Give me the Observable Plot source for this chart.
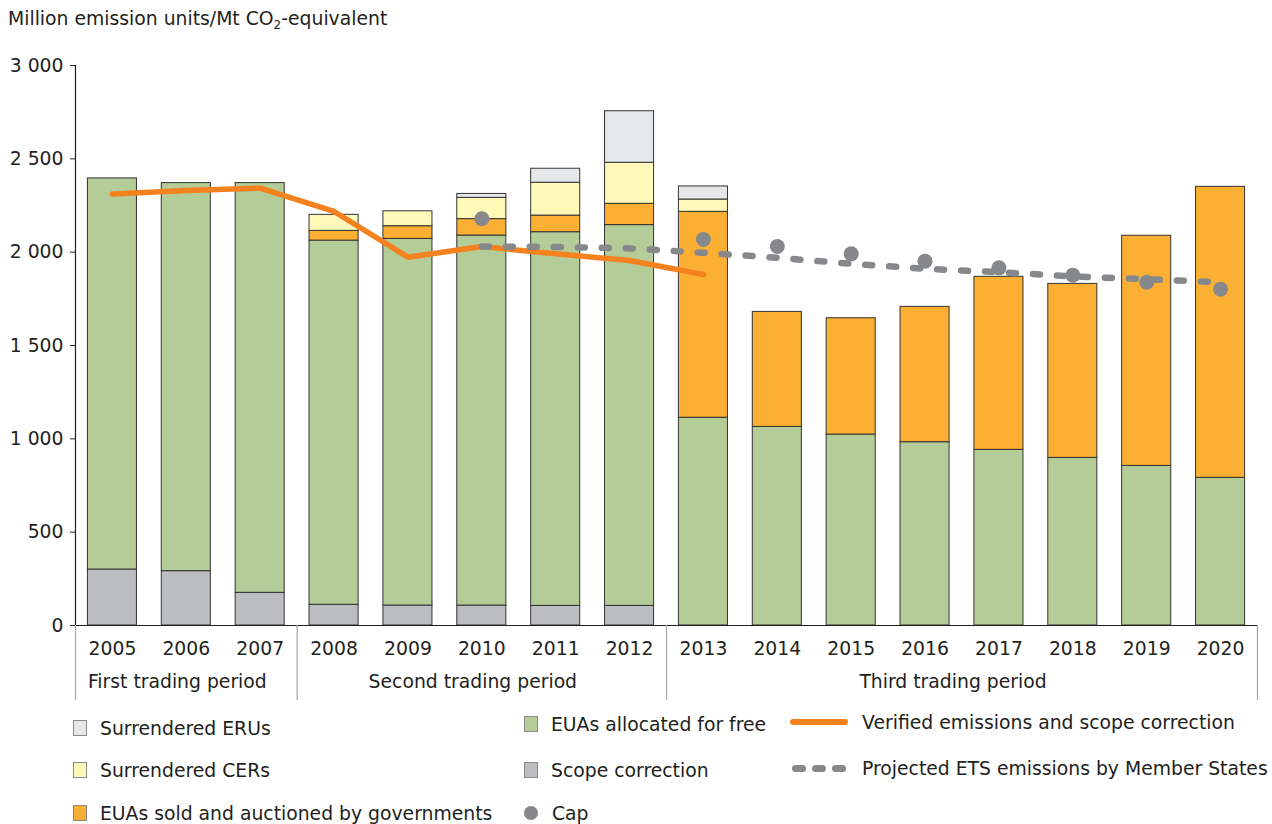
<!DOCTYPE html>
<html>
<head>
<meta charset="utf-8">
<script src="https://cdn.jsdelivr.net/npm/d3@7"></script>
<script src="https://cdn.jsdelivr.net/npm/@observablehq/plot@0.6"></script>
<style>
  body { margin: 0; background: #fff; font-family: "DejaVu Sans", Verdana, sans-serif; color: #231f20; }
  #page { position: relative; width: 1272px; height: 824px; overflow: hidden; }
  #title { position: absolute; left: 8px; top: 8px; font-size: 18.8px; line-height: 22px; white-space: nowrap; }
  #title sub { font-size: 12px; vertical-align: -4px; line-height: 0; }
  #chart { position: absolute; left: 0; top: 40px; }
  .lg { position: absolute; font-size: 18.8px; line-height: 22px; white-space: nowrap; }
  .sw { position: absolute; width: 12px; height: 14px; border: 1px solid #8a8a8a; box-sizing: content-box; }
</style>
</head>
<body>
<div id="page">
  <div id="title">Million emission units/Mt CO<sub>2</sub>-equivalent</div>
  <div id="chart"></div>
</div>
<script>
// ---------- data ----------
const years      = [2005, 2006, 2007, 2008, 2009, 2010, 2011, 2012, 2013, 2014, 2015, 2016, 2017, 2018, 2019, 2020];
const scope      = [300, 291, 175, 111, 107, 107, 105, 105, 0, 0, 0, 0, 0, 0, 0, 0];
const freeEUAs   = [2095, 2079, 2195, 1951, 1964, 1982, 2002, 2040, 1113, 1064, 1023, 982, 941, 898, 855, 791];
const auctioned  = [0, 0, 0, 52, 68, 88, 89, 114, 1103, 616, 623, 725, 927, 932, 1233, 1559];
const cers       = [0, 0, 0, 86, 80, 114, 176, 220, 66, 0, 0, 0, 0, 0, 0, 0];
const erus       = [0, 0, 0, 0, 0, 21, 75, 276, 70, 0, 0, 0, 0, 0, 0, 0];

const verifiedYears  = [2005, 2006, 2007, 2008, 2009, 2010, 2011, 2012, 2013];
const verified       = [2312, 2330, 2343, 2218, 1973, 2030, 1991, 1955, 1880];

const projectedYears = [2010, 2011, 2012, 2013, 2014, 2015, 2016, 2017, 2018, 2019, 2020];
const projected      = [2030, 2028, 2020, 1997, 1970, 1938, 1911, 1893, 1870, 1855, 1839];

const capYears = [2010, 2013, 2014, 2015, 2016, 2017, 2018, 2019, 2020];
const cap      = [2179, 2068, 2030, 1991, 1952, 1916, 1877, 1839, 1802];

const periodNames  = ["First trading period", "Second trading period", "Third trading period"];
const periodStarts = [2005, 2008, 2013];
const periodEnds   = [2007, 2012, 2020];

const yTicks = [0, 500, 1000, 1500, 2000, 2500, 3000];

const seriesNames  = ["Scope correction", "EUAs allocated for free", "EUAs sold and auctioned by governments", "Surrendered CERs", "Surrendered ERUs"];
const seriesColors = ["#bcbdc1", "#b4cc98", "#fbb034", "#fff8b8", "#e6e7e8"];
const seriesValues = [scope, freeEUAs, auctioned, cers, erus];

// ---------- build tables ----------
const segs = [];
years.forEach((yr, i) => {
  let cum = 0;
  seriesValues.forEach((arr, s) => {
    const v = arr[i];
    if (v > 0) { segs.push({year: yr, series: seriesNames[s], y1: cum, y2: cum + v}); cum += v; }
  });
});
const verifiedRows  = verifiedYears.map((y, i) => ({year: y, value: verified[i]}));
const projectedRows = projectedYears.map((y, i) => ({year: y, value: projected[i]}));
const capRows       = capYears.map((y, i) => ({year: y, value: cap[i]}));
const periods = periodNames.map((n, i) => ({name: n, mid: (periodStarts[i] - 0.5 + periodEnds[i] + 0.5) / 2}));
const boundaries = [periodStarts[0] - 0.5, ...periodEnds.map(e => e + 0.5)];

const half = 0.332;
const fmt = d => d3.format(",")(d).replace(/,/g, " ");

const plot = Plot.plot({
  width: 1272,
  height: 670,
  marginTop: 25,
  marginBottom: 85,
  marginLeft: 75,
  marginRight: 15,
  style: { fontFamily: "DejaVu Sans, Verdana, sans-serif", fontSize: "18.8px", color: "#231f20", background: "#fff" },
  x: { domain: [2004.5, 2020.5], axis: null },
  y: { domain: [0, 3000], axis: null },
  color: { domain: seriesNames, range: seriesColors },
  marks: [
    Plot.rect(segs, { x1: d => d.year - half, x2: d => d.year + half, y1: "y1", y2: "y2", fill: "series", stroke: "#333", strokeWidth: 1 }),
    Plot.ruleY([0], { stroke: "#231f20", strokeWidth: 1.2 }),
    Plot.ruleX([boundaries[0]], { stroke: "#231f20", strokeWidth: 1.2 }),
    Plot.ruleX(boundaries, { stroke: "#a6a6a6", strokeWidth: 1.2, insetTop: 485, dy: 75 }),
    Plot.axisY({ ticks: yTicks, tickSize: 5, tickPadding: 7, tickFormat: fmt, stroke: "#231f20" }),
    Plot.axisX({ ticks: years, tickSize: 0, tickPadding: 16, tickFormat: d => String(d) }),
    Plot.text(periods, { x: "mid", text: "name", frameAnchor: "bottom", dy: 62, dx: -9, fill: "#231f20" }),
    Plot.line(verifiedRows, { x: "year", y: "value", stroke: "#f5821f", strokeWidth: 5.5, strokeLinejoin: "round", strokeLinecap: "round" }),
    Plot.line(projectedRows, { x: "year", y: "value", stroke: "#87888b", strokeWidth: 6.5, strokeDasharray: "7,17", strokeLinecap: "round" }),
    Plot.dot(capRows, { x: "year", y: "value", r: 7.5, fill: "#87888b" })
  ]
});
document.getElementById("chart").appendChild(plot);

// ---------- legend ----------
const page = d3.select("#page");
const swatchItems = [
  { name: seriesNames[4], color: seriesColors[4], x: 73,  y: 728 },
  { name: seriesNames[3], color: seriesColors[3], x: 73,  y: 770 },
  { name: seriesNames[2], color: seriesColors[2], x: 73,  y: 813 },
  { name: seriesNames[1], color: seriesColors[1], x: 524, y: 724 },
  { name: seriesNames[0], color: seriesColors[0], x: 524, y: 770 }
];
swatchItems.forEach(it => {
  page.append("div").attr("class", "sw")
    .style("left", it.x + "px").style("top", (it.y - 8) + "px").style("background", it.color);
  page.append("div").attr("class", "lg")
    .style("left", (it.x + 27) + "px").style("top", (it.y - 10) + "px").text(it.name);
});
// cap legend
page.append("div").style("position", "absolute").style("left", "524px").style("top", "806px")
  .style("width", "14px").style("height", "14px").style("border-radius", "50%").style("background", "#87888b");
page.append("div").attr("class", "lg").style("left", "552px").style("top", "803px").text("Cap");
// verified legend
page.append("div").style("position", "absolute").style("left", "790px").style("top", "719px")
  .style("width", "58px").style("height", "6px").style("border-radius", "3px").style("background", "#f5821f");
page.append("div").attr("class", "lg").style("left", "862px").style("top", "712px").text("Verified emissions and scope correction");
// projected legend
[792, 812, 832].forEach(x => {
  page.append("div").style("position", "absolute").style("left", x + "px").style("top", "765px")
    .style("width", "14px").style("height", "7px").style("border-radius", "3.5px").style("background", "#87888b");
});
page.append("div").attr("class", "lg").style("left", "862px").style("top", "758px").text("Projected ETS emissions by Member States");
</script>
</body>
</html>
